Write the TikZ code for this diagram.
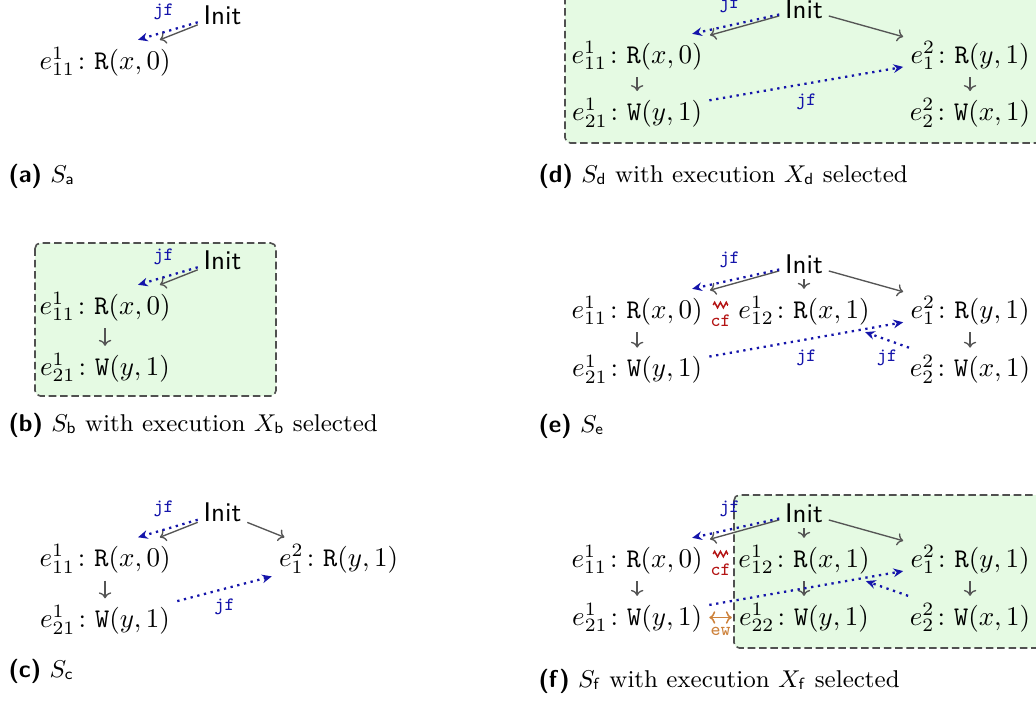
\documentclass[tikz,border=0pt]{standalone}
\usepackage{xcolor}
\usepackage{amsmath}
\usepackage{tikz}
\usetikzlibrary{arrows.meta, positioning, calc, decorations.pathmorphing}
\definecolor{JfBlue}{RGB}{20,20,170}
\definecolor{CfRed}{RGB}{180,20,20}
\definecolor{EwOrange}{RGB}{205,130,60}
\definecolor{PoGray}{RGB}{85,85,85}
\definecolor{SelGreen}{RGB}{229,250,227}
\definecolor{LineGray}{RGB}{80,80,80}

\begin{document}
\begin{tikzpicture}[
  x=0.37037pt, y=-0.37037pt, on grid,
  initnode/.style={font=\sffamily, inner sep=2pt},
  event/.style={inner sep=2.5pt},
  po/.style={-{To[length=2.2pt]}, draw=PoGray, line width=0.5pt},
  jf/.style={-{Stealth[length=3.6pt, width=3.2pt]}, draw=JfBlue, line width=0.85pt, dash pattern=on 0.85pt off 1.7pt},
  rel/.style={font=\scriptsize\ttfamily, text=#1},
  cf/.style={draw=CfRed, line width=0.55pt, decorate, decoration={zigzag, segment length=2.15pt, amplitude=1pt}},
  ew/.style={{To[length=2.2pt]}-{To[length=2.2pt]}, draw=EwOrange, line width=0.55pt},
  selbox/.style={draw=LineGray, fill=SelGreen, line width=0.6pt, dash pattern=on 2.8pt off 1.4pt, rounded corners=2pt},
  subcap/.style={anchor=base west, inner sep=0pt, font=\small}
]
\useasboundingbox (0,0) rectangle (1036,700);
\clip (0,0) rectangle (1036,700);

% selected executions
\draw[selbox] (35,243) rectangle (276,396);
\draw[selbox] (565,-20) rectangle (1060,143);
\draw[selbox] (734,495) rectangle (1060,648);

% (a)
\node[initnode] (initA) at (222.5,15) {Init};
\node[event, below left=17.2pt and 43.5pt of initA] (a11) {$e^1_{11}\colon \mathtt{R}(x,0)$};
\draw[po] (initA) -- (a11);
\draw[jf] (initA) -- ([xshift=12.2pt]a11.north) node[rel=JfBlue, pos=0.57, above=1pt] {jf};
\node[subcap] (capA) at (8,182) {\textsf{\textbf{(a)}} $S_{\mathsf{a}}$};

% (b)
\node[initnode] (initB) at (222.5,260) {Init};
\node[event, below left=17.2pt and 43.5pt of initB] (b11) {$e^1_{11}\colon \mathtt{R}(x,0)$};
\node[event, below=22.6pt of b11] (b21) {$e^1_{21}\colon \mathtt{W}(y,1)$};
\draw[po] (initB) -- (b11);
\draw[po] (b11) -- (b21);
\draw[jf] (initB) -- ([xshift=12.2pt]b11.north) node[rel=JfBlue, pos=0.57, above=1pt] {jf};
\node[subcap] (capB) at (8,431) {\textsf{\textbf{(b)}} $S_{\mathsf{b}}$ with execution $X_{\mathsf{b}}$ selected};

% (c)
\node[initnode] (initC) at (222.5,512.5) {Init};
\node[event, below left=17.2pt and 43.5pt of initC] (c11) {$e^1_{11}\colon \mathtt{R}(x,0)$};
\node[event, below right=17.2pt and 43pt of initC] (c1) {$e^2_{1}\colon \mathtt{R}(y,1)$};
\node[event, below=22.6pt of c11] (c21) {$e^1_{21}\colon \mathtt{W}(y,1)$};
\draw[po] (initC) -- (c11);
\draw[po] (initC) -- (c1);
\draw[po] (c11) -- (c21);
\draw[jf] (initC) -- ([xshift=12.2pt]c11.north) node[rel=JfBlue, pos=0.57, above=1pt] {jf};
\draw[jf] (c21) -- (c1) node[rel=JfBlue, midway, below] {jf};
\node[subcap] (capC) at (8,677) {\textsf{\textbf{(c)}} $S_{\mathsf{c}}$};

% (d)
\node[initnode] (initD) at (804,9) {Init};
\node[event, below left=17.2pt and 61.8pt of initD] (d11) {$e^1_{11}\colon \mathtt{R}(x,0)$};
\node[event, below right=17.2pt and 61.5pt of initD] (d1) {$e^2_{1}\colon \mathtt{R}(y,1)$};
\node[event, below=21.2pt of d11] (d21) {$e^1_{21}\colon \mathtt{W}(y,1)$};
\node[event, below=21.2pt of d1] (d2) {$e^2_{2}\colon \mathtt{W}(x,1)$};
\draw[po] (initD) -- (d11);
\draw[po] (initD) -- (d1);
\draw[po] (d11) -- (d21);
\draw[po] (d1) -- (d2);
\draw[jf] (initD) -- ([xshift=20.4pt]d11.north) node[rel=JfBlue, pos=0.57, above=1pt] {jf};
\draw[jf] (d21) -- (d1) node[rel=JfBlue, midway, below] {jf};
\node[subcap] (capD) at (538,182) {\textsf{\textbf{(d)}} $S_{\mathsf{d}}$ with execution $X_{\mathsf{d}}$ selected};

% (e)
\node[initnode] (initE) at (804,264) {Init};
\node[event, below left=17.2pt and 61.8pt of initE] (e11) {$e^1_{11}\colon \mathtt{R}(x,0)$};
\node[event, below=17.2pt of initE] (e12) {$e^1_{12}\colon \mathtt{R}(x,1)$};
\node[event, below right=17.2pt and 61.5pt of initE] (e1) {$e^2_{1}\colon \mathtt{R}(y,1)$};
\node[event, below=21.8pt of e11] (e21) {$e^1_{21}\colon \mathtt{W}(y,1)$};
\node[event, below=21.8pt of e1] (e2) {$e^2_{2}\colon \mathtt{W}(x,1)$};
\draw[po] (initE) -- (e11);
\draw[po] (initE) -- (e12);
\draw[po] (initE) -- (e1);
\draw[po] (e11) -- (e21);
\draw[po] (e1) -- (e2);
\draw[jf] (initE) -- ([xshift=20.4pt]e11.north) node[rel=JfBlue, pos=0.57, above=1pt] {jf};
\draw[jf] (e21) -- (e1) node[rel=JfBlue, midway, below] {jf};
\draw[jf] (e2) -- (e12) node[rel=JfBlue, midway, below] {jf};
\draw[cf] ([xshift=1.2pt, yshift=2pt]e11.east) -- ([xshift=-1.2pt, yshift=2pt]e12.west)
  node[rel=CfRed, midway, below] {cf};
\node[subcap] (capE) at (538,432) {\textsf{\textbf{(e)}} $S_{\mathsf{e}}$};

% (f)
\node[initnode] (initF) at (804,513) {Init};
\node[event, below left=17.2pt and 61.8pt of initF] (f11) {$e^1_{11}\colon \mathtt{R}(x,0)$};
\node[event, below=17.2pt of initF] (f12) {$e^1_{12}\colon \mathtt{R}(x,1)$};
\node[event, below right=17.2pt and 61.5pt of initF] (f1) {$e^2_{1}\colon \mathtt{R}(y,1)$};
\node[event, below=21.5pt of f11] (f21) {$e^1_{21}\colon \mathtt{W}(y,1)$};
\node[event, below=21.5pt of f12] (f22) {$e^1_{22}\colon \mathtt{W}(y,1)$};
\node[event, below=21.5pt of f1] (f2) {$e^2_{2}\colon \mathtt{W}(x,1)$};
\draw[po] (initF) -- (f11);
\draw[po] (initF) -- (f12);
\draw[po] (initF) -- (f1);
\draw[po] (f11) -- (f21);
\draw[po] (f12) -- (f22);
\draw[po] (f1) -- (f2);
\draw[jf] (initF) -- ([xshift=20.4pt]f11.north) node[rel=JfBlue, pos=0.57, above=1pt] {jf};
\draw[jf] (f21) -- (f1);
\draw[jf] (f2) -- (f12);
\draw[cf] ([xshift=1.2pt, yshift=2pt]f11.east) -- ([xshift=-1.2pt, yshift=2pt]f12.west)
  node[rel=CfRed, midway, below] {cf};
\draw[ew] (f21) -- (f22) node[rel=EwOrange, midway, below] {ew};
\node[subcap] (capF) at (538,687) {\textsf{\textbf{(f)}} $S_{\mathsf{f}}$ with execution $X_{\mathsf{f}}$ selected};
\end{tikzpicture}
\end{document}
